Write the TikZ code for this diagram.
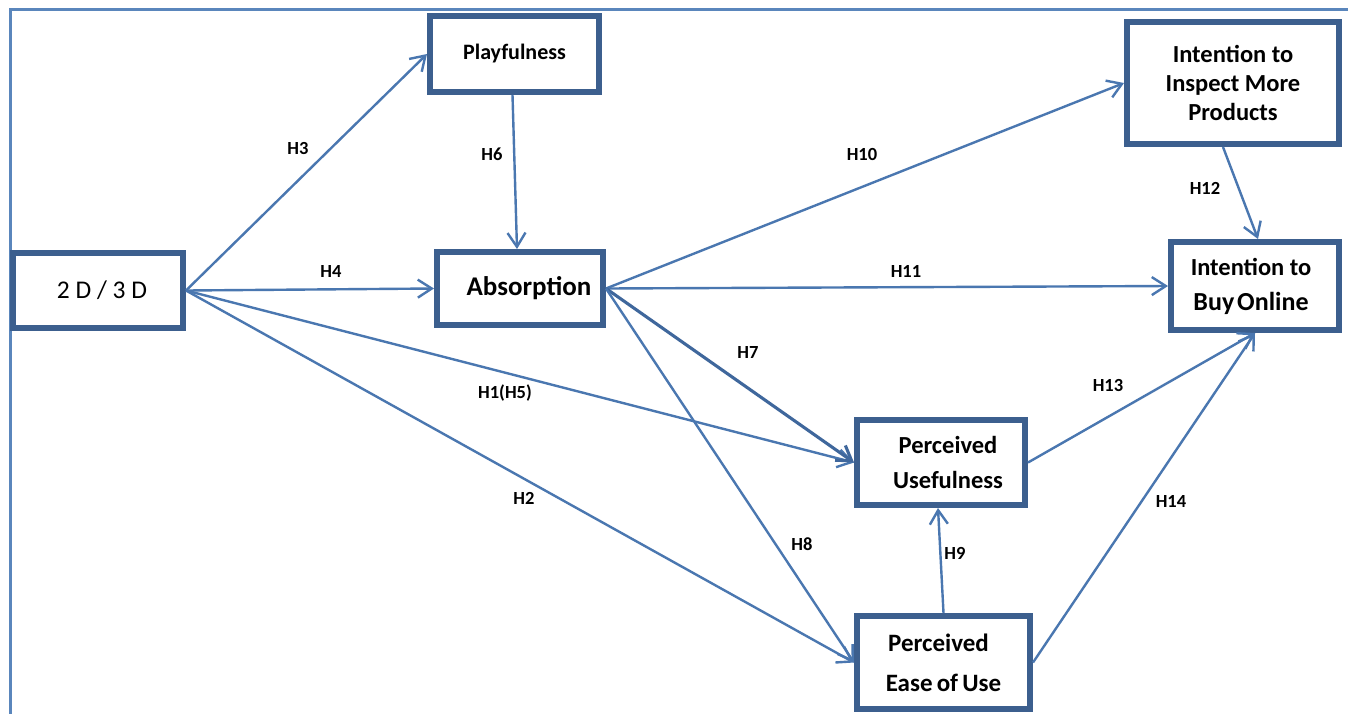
\documentclass[tikz,border=0pt]{standalone}
\usepackage{fontspec}
\setmainfont{Carlito}
\usetikzlibrary{arrows.meta}
\definecolor{boxblue}{HTML}{3C5F8E}
\definecolor{arrblue}{HTML}{4A77B0}
\definecolor{arrdark}{HTML}{3F679C}
\definecolor{frameblue}{HTML}{5A86BC}
\tikzset{
  cbox/.style={draw=boxblue, line width=6pt, fill=white, align=center, inner sep=0pt, font=\bfseries},
  conn/.style={draw=arrblue, line width=2.4pt, -{Straight Barb[length=14pt,width=18pt]}},
  hlab/.style={font=\fontsize{18.5}{20}\selectfont\bfseries, inner sep=0pt}
}
\begin{document}
\begin{tikzpicture}[x=1pt,y=-1pt]
\useasboundingbox (0,0) rectangle (1348,713);
\fill[white] (0,0) rectangle (1348,713);
% outer frame
\draw[frameblue, line width=2.6pt] (10.5,716) -- (10.5,9.5) -- (1352,9.5);

% boxes
\node[cbox, minimum width=169pt, minimum height=76pt, font=\fontsize{22}{26}\selectfont\bfseries] (play) at (514.5,54) {Playfulness};
\node[cbox, minimum width=170pt, minimum height=75pt, font=\fontsize{25.5}{28}\selectfont] (dd) at (98,290.5) {\hspace*{8pt}2 D / 3 D};
\node[cbox, minimum width=166pt, minimum height=73pt, font=\fontsize{27}{30}\selectfont\bfseries] (abs) at (520,288.5) {\hspace*{18pt}Absorption};
\node[cbox, minimum width=212pt, minimum height=122pt, font=\fontsize{24.5}{29}\selectfont\bfseries] (insp) at (1233,83) {Intention to\\Inspect More\\Products};
\node[cbox, minimum width=168pt, minimum height=88pt, font=\fontsize{24.5}{35}\selectfont\bfseries] (buy) at (1255,286) {\raisebox{-3pt}{Intention to}\hspace*{8pt}\\{\fontsize{26}{35}\selectfont \raisebox{-3pt}{Buy\hspace{-3pt} Online}}\hspace*{8pt}};
\node[cbox, minimum width=168pt, minimum height=85pt, font=\fontsize{24.5}{35}\selectfont\bfseries] (pu) at (941,462.5) {\hspace*{14pt}Perceived\\\hspace*{14pt}Usefulness};
\node[cbox, minimum width=173pt, minimum height=93pt, font=\fontsize{25}{40}\selectfont\bfseries] (peou) at (943.5,662.5) {\raisebox{-4pt}{Perceived}\hspace*{10pt}\\\raisebox{-4pt}{Ease\hspace{-1.5pt} of\hspace{-1.5pt} Use}};

% connectors
\draw[conn] (dd.east) -- (play.west);
\draw[conn] (dd.east) -- (abs.west);
\draw[conn] (dd.east) -- (pu.west);
\draw[conn] (dd.east) -- (peou.west);
\draw[conn] ([xshift=-2pt]play.south) -- ([xshift=-3pt]abs.north);
\draw[conn] (abs.east) -- (insp.west);
\draw[conn] (abs.east) -- (buy.west);
\draw[conn, draw=arrdark, line width=3.1pt] (abs.east) -- (pu.west);
\draw[conn] (abs.east) -- (peou.west);
\draw[conn] ([xshift=-10pt]insp.south) -- ([xshift=3pt]buy.north);
\draw[conn] (pu.east) -- (buy.south);
\draw[conn] (peou.east) -- (buy.south);
\draw[conn] (peou.north) -- ([xshift=-3pt]pu.south);

% labels
\node[hlab] (l3) at (298,148) {H3};
\node[hlab] (l6) at (492,154) {H6};
\node[hlab] (l4) at (331,271) {H4};
\node[hlab] (l10) at (862,154) {H10};
\node[hlab] (l11) at (906,271) {H11};
\node[hlab] (l12) at (1205,188) {H12};
\node[hlab] (l7) at (748,352) {H7};
\node[hlab] (l1) at (505,393) {H1(H5)};
\node[hlab] (l13) at (1108,385) {H13};
\node[hlab] (l2) at (524,498) {H2};
\node[hlab] (l14) at (1171,501) {H14};
\node[hlab] (l8) at (802,544) {H8};
\node[hlab] (l9) at (955,553) {H9};
\end{tikzpicture}
\end{document}
